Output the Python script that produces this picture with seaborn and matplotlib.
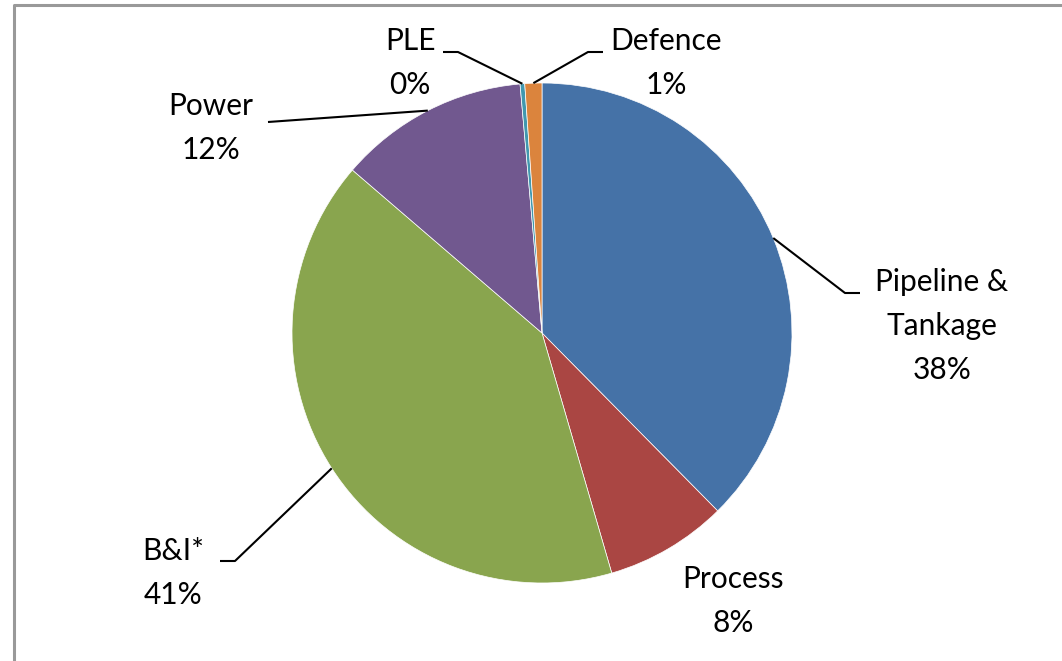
import matplotlib
matplotlib.use("Agg")
import numpy as np
import matplotlib.pyplot as plt
import seaborn as sns

# data
sectors = ["Pipeline &\nTankage", "Process", "B&I*", "Power", "PLE", "Defence"]
shares = [37.6, 7.9, 40.8, 12.3, 0.3, 1.1]
colors = ["#4572A7", "#AA4643", "#89A54E", "#71588F", "#4198AF", "#DB843D"]

sns.set_theme(style="white")
plt.rcParams["font.family"] = ["Lato", "DejaVu Sans"]

W, H = 1062, 661
fig = plt.figure(figsize=(W / 100, H / 100), dpi=100)
ax = fig.add_axes([0, 0, 1, 1])

cx, cy, r = 542, H - 333, 250
wedges, _ = ax.pie(shares, colors=colors, startangle=90, counterclock=False,
                   center=(cx, cy), radius=r, frame=True,
                   wedgeprops=dict(edgecolor="white", linewidth=0.5))
ax.set_xlim(0, W)
ax.set_ylim(0, H)
ax.axis("off")

# label layout in pixel coords (y from top)
label_pos = [(942, 326), (733, 601), (173, 573), (211, 128), (410, 63), (666, 63)]
leader_pts = [[(860, 293), (845, 293)], None, [(220, 561), (235, 561)],
              [(268, 122)], [(443, 52), (458, 52)], [(603, 52), (588, 52)]]

for w, name, v, pos, pts in zip(wedges, sectors, shares, label_pos, leader_pts):
    ax.text(pos[0], H - pos[1], f"{name}\n{v:.0f}%", ha="center", va="center",
            fontsize=21.5, color="black", linespacing=1.7)
    if pts is None:
        continue
    mid = np.deg2rad((w.theta1 + w.theta2) / 2)
    ax_pt = (cx + r * np.cos(mid), cy + r * np.sin(mid))
    xs = [p[0] for p in pts] + [ax_pt[0]]
    ys = [H - p[1] for p in pts] + [ax_pt[1]]
    ax.plot(xs, ys, color="black", lw=1.5, solid_capstyle="butt")

# chart border (only top and left visible)
ax.plot([14, 14, W + 10], [-10, H - 5, H - 5], color="#999999", lw=2.2, clip_on=False)

fig.savefig("out.png", dpi=100)
